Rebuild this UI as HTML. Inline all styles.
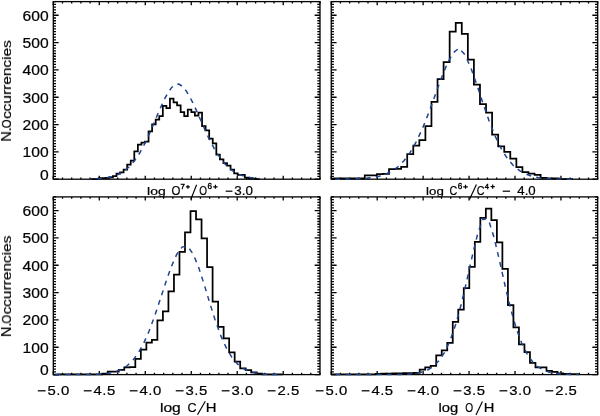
<!DOCTYPE html>
<html><head><meta charset="utf-8"><style>
html,body{margin:0;padding:0;background:#fff;}
svg{display:block;font-family:"Liberation Sans",sans-serif;-webkit-font-smoothing:antialiased;}
text{will-change:transform;stroke:#000;stroke-width:0.22px;}
</style></head><body>
<svg width="600" height="416" viewBox="0 0 600 416">
<rect width="600" height="416" fill="#fff"/>
<rect x="53.30" y="1.60" width="266.70" height="177.60" fill="none" stroke="#000" stroke-width="1.3"/>
<path d="M53.30 179.20v-3.55M53.30 1.60v3.55M62.50 179.20v-1.78M62.50 1.60v1.78M71.69 179.20v-1.78M71.69 1.60v1.78M80.89 179.20v-1.78M80.89 1.60v1.78M90.09 179.20v-1.78M90.09 1.60v1.78M99.28 179.20v-3.55M99.28 1.60v3.55M108.48 179.20v-1.78M108.48 1.60v1.78M117.68 179.20v-1.78M117.68 1.60v1.78M126.87 179.20v-1.78M126.87 1.60v1.78M136.07 179.20v-1.78M136.07 1.60v1.78M145.27 179.20v-3.55M145.27 1.60v3.55M154.46 179.20v-1.78M154.46 1.60v1.78M163.66 179.20v-1.78M163.66 1.60v1.78M172.86 179.20v-1.78M172.86 1.60v1.78M182.05 179.20v-1.78M182.05 1.60v1.78M191.25 179.20v-3.55M191.25 1.60v3.55M200.44 179.20v-1.78M200.44 1.60v1.78M209.64 179.20v-1.78M209.64 1.60v1.78M218.84 179.20v-1.78M218.84 1.60v1.78M228.03 179.20v-1.78M228.03 1.60v1.78M237.23 179.20v-3.55M237.23 1.60v3.55M246.43 179.20v-1.78M246.43 1.60v1.78M255.62 179.20v-1.78M255.62 1.60v1.78M264.82 179.20v-1.78M264.82 1.60v1.78M274.02 179.20v-1.78M274.02 1.60v1.78M283.21 179.20v-3.55M283.21 1.60v3.55M292.41 179.20v-1.78M292.41 1.60v1.78M301.61 179.20v-1.78M301.61 1.60v1.78M310.80 179.20v-1.78M310.80 1.60v1.78M320.00 179.20v-1.78M320.00 1.60v1.78M53.30 179.20h5.33M320.00 179.20h-5.33M53.30 176.47h2.67M320.00 176.47h-2.67M53.30 173.74h2.67M320.00 173.74h-2.67M53.30 171.00h2.67M320.00 171.00h-2.67M53.30 168.27h2.67M320.00 168.27h-2.67M53.30 165.54h2.67M320.00 165.54h-2.67M53.30 162.81h2.67M320.00 162.81h-2.67M53.30 160.07h2.67M320.00 160.07h-2.67M53.30 157.34h2.67M320.00 157.34h-2.67M53.30 154.61h2.67M320.00 154.61h-2.67M53.30 151.88h5.33M320.00 151.88h-5.33M53.30 149.14h2.67M320.00 149.14h-2.67M53.30 146.41h2.67M320.00 146.41h-2.67M53.30 143.68h2.67M320.00 143.68h-2.67M53.30 140.95h2.67M320.00 140.95h-2.67M53.30 138.22h2.67M320.00 138.22h-2.67M53.30 135.48h2.67M320.00 135.48h-2.67M53.30 132.75h2.67M320.00 132.75h-2.67M53.30 130.02h2.67M320.00 130.02h-2.67M53.30 127.29h2.67M320.00 127.29h-2.67M53.30 124.55h5.33M320.00 124.55h-5.33M53.30 121.82h2.67M320.00 121.82h-2.67M53.30 119.09h2.67M320.00 119.09h-2.67M53.30 116.36h2.67M320.00 116.36h-2.67M53.30 113.62h2.67M320.00 113.62h-2.67M53.30 110.89h2.67M320.00 110.89h-2.67M53.30 108.16h2.67M320.00 108.16h-2.67M53.30 105.43h2.67M320.00 105.43h-2.67M53.30 102.70h2.67M320.00 102.70h-2.67M53.30 99.96h2.67M320.00 99.96h-2.67M53.30 97.23h5.33M320.00 97.23h-5.33M53.30 94.50h2.67M320.00 94.50h-2.67M53.30 91.77h2.67M320.00 91.77h-2.67M53.30 89.03h2.67M320.00 89.03h-2.67M53.30 86.30h2.67M320.00 86.30h-2.67M53.30 83.57h2.67M320.00 83.57h-2.67M53.30 80.84h2.67M320.00 80.84h-2.67M53.30 78.10h2.67M320.00 78.10h-2.67M53.30 75.37h2.67M320.00 75.37h-2.67M53.30 72.64h2.67M320.00 72.64h-2.67M53.30 69.91h5.33M320.00 69.91h-5.33M53.30 67.18h2.67M320.00 67.18h-2.67M53.30 64.44h2.67M320.00 64.44h-2.67M53.30 61.71h2.67M320.00 61.71h-2.67M53.30 58.98h2.67M320.00 58.98h-2.67M53.30 56.25h2.67M320.00 56.25h-2.67M53.30 53.51h2.67M320.00 53.51h-2.67M53.30 50.78h2.67M320.00 50.78h-2.67M53.30 48.05h2.67M320.00 48.05h-2.67M53.30 45.32h2.67M320.00 45.32h-2.67M53.30 42.58h5.33M320.00 42.58h-5.33M53.30 39.85h2.67M320.00 39.85h-2.67M53.30 37.12h2.67M320.00 37.12h-2.67M53.30 34.39h2.67M320.00 34.39h-2.67M53.30 31.66h2.67M320.00 31.66h-2.67M53.30 28.92h2.67M320.00 28.92h-2.67M53.30 26.19h2.67M320.00 26.19h-2.67M53.30 23.46h2.67M320.00 23.46h-2.67M53.30 20.73h2.67M320.00 20.73h-2.67M53.30 17.99h2.67M320.00 17.99h-2.67M53.30 15.26h5.33M320.00 15.26h-5.33M53.30 12.53h2.67M320.00 12.53h-2.67M53.30 9.80h2.67M320.00 9.80h-2.67M53.30 7.06h2.67M320.00 7.06h-2.67M53.30 4.33h2.67M320.00 4.33h-2.67M53.30 1.60h2.67M320.00 1.60h-2.67" stroke="#000" stroke-width="1.3" fill="none"/>
<polyline points="90.00,179.01 91.50,179.01 91.50,179.01 95.07,179.01 95.07,179.01 98.64,179.01 98.64,178.00 102.20,178.00 102.20,178.00 105.77,178.00 105.77,177.81 109.33,177.81 109.33,177.29 112.90,177.29 112.90,176.00 116.46,176.00 116.46,173.60 120.03,173.60 120.03,172.40 123.60,172.40 123.60,169.50 127.16,169.50 127.16,164.50 130.73,164.50 130.73,160.70 134.29,160.70 134.29,151.49 137.86,151.49 137.86,144.61 141.43,144.61 141.43,142.51 144.99,142.51 144.99,141.60 148.56,141.60 148.56,131.30 152.12,131.30 152.12,124.31 155.69,124.31 155.69,119.61 159.25,119.61 159.25,116.19 162.82,116.19 162.82,105.76 166.39,105.76 166.39,108.24 169.95,108.24 169.95,98.71 173.52,98.71 173.52,102.39 177.08,102.39 177.08,105.29 180.65,105.29 180.65,112.01 184.22,112.01 184.22,116.19 187.78,116.19 187.78,109.69 191.35,109.69 191.35,112.01 194.91,112.01 194.91,115.70 198.48,115.70 198.48,112.50 202.04,112.50 202.04,126.00 205.61,126.00 205.61,130.29 209.18,130.29 209.18,138.71 212.74,138.71 212.74,143.30 216.31,143.30 216.31,154.50 219.87,154.50 219.87,159.39 223.44,159.39 223.44,163.00 227.01,163.00 227.01,165.51 230.57,165.51 230.57,169.69 234.14,169.69 234.14,173.30 237.70,173.30 237.70,174.99 241.27,174.99 241.27,174.99 244.83,174.99 244.83,177.51 248.40,177.51 248.40,178.30 251.97,178.30 251.97,178.60 255.53,178.60 255.53,179.01 259.10,179.01 259.10,179.01 260.00,179.01" fill="none" stroke="#000" stroke-width="1.75" stroke-linejoin="miter"/>
<polyline points="90.00,179.01 93.29,178.90 96.85,178.73 100.42,178.48 103.99,178.11 107.55,177.58 111.12,176.84 114.69,175.80 118.25,174.40 121.82,172.54 125.38,170.12 128.95,167.04 132.51,163.20 136.08,158.54 139.65,153.01 143.21,146.62 146.78,139.43 150.34,131.57 153.91,123.26 157.48,114.80 161.04,106.55 164.61,98.93 168.18,92.40 171.74,87.43 175.31,84.47 178.87,84.12 182.44,86.40 186.00,90.66 189.57,96.48 193.14,103.45 196.70,111.16 200.27,119.24 203.83,127.32 207.40,135.12 210.97,142.41 214.53,149.03 218.10,154.89 221.66,159.94 225.23,164.20 228.80,167.71 232.36,170.54 235.93,172.79 239.50,174.52 243.06,175.85 246.63,176.83 250.19,177.56 253.76,178.08 257.32,178.44 260.00,178.64" fill="none" stroke="#1f448f" stroke-width="1.5" stroke-dasharray="5 5.2" stroke-dashoffset="3.40"/>
<rect x="53.30" y="196.90" width="266.70" height="177.70" fill="none" stroke="#000" stroke-width="1.3"/>
<path d="M53.30 374.60v-3.55M53.30 196.90v3.55M62.50 374.60v-1.78M62.50 196.90v1.78M71.69 374.60v-1.78M71.69 196.90v1.78M80.89 374.60v-1.78M80.89 196.90v1.78M90.09 374.60v-1.78M90.09 196.90v1.78M99.28 374.60v-3.55M99.28 196.90v3.55M108.48 374.60v-1.78M108.48 196.90v1.78M117.68 374.60v-1.78M117.68 196.90v1.78M126.87 374.60v-1.78M126.87 196.90v1.78M136.07 374.60v-1.78M136.07 196.90v1.78M145.27 374.60v-3.55M145.27 196.90v3.55M154.46 374.60v-1.78M154.46 196.90v1.78M163.66 374.60v-1.78M163.66 196.90v1.78M172.86 374.60v-1.78M172.86 196.90v1.78M182.05 374.60v-1.78M182.05 196.90v1.78M191.25 374.60v-3.55M191.25 196.90v3.55M200.44 374.60v-1.78M200.44 196.90v1.78M209.64 374.60v-1.78M209.64 196.90v1.78M218.84 374.60v-1.78M218.84 196.90v1.78M228.03 374.60v-1.78M228.03 196.90v1.78M237.23 374.60v-3.55M237.23 196.90v3.55M246.43 374.60v-1.78M246.43 196.90v1.78M255.62 374.60v-1.78M255.62 196.90v1.78M264.82 374.60v-1.78M264.82 196.90v1.78M274.02 374.60v-1.78M274.02 196.90v1.78M283.21 374.60v-3.55M283.21 196.90v3.55M292.41 374.60v-1.78M292.41 196.90v1.78M301.61 374.60v-1.78M301.61 196.90v1.78M310.80 374.60v-1.78M310.80 196.90v1.78M320.00 374.60v-1.78M320.00 196.90v1.78M53.30 374.60h5.33M320.00 374.60h-5.33M53.30 371.87h2.67M320.00 371.87h-2.67M53.30 369.13h2.67M320.00 369.13h-2.67M53.30 366.40h2.67M320.00 366.40h-2.67M53.30 363.66h2.67M320.00 363.66h-2.67M53.30 360.93h2.67M320.00 360.93h-2.67M53.30 358.20h2.67M320.00 358.20h-2.67M53.30 355.46h2.67M320.00 355.46h-2.67M53.30 352.73h2.67M320.00 352.73h-2.67M53.30 350.00h2.67M320.00 350.00h-2.67M53.30 347.26h5.33M320.00 347.26h-5.33M53.30 344.53h2.67M320.00 344.53h-2.67M53.30 341.79h2.67M320.00 341.79h-2.67M53.30 339.06h2.67M320.00 339.06h-2.67M53.30 336.33h2.67M320.00 336.33h-2.67M53.30 333.59h2.67M320.00 333.59h-2.67M53.30 330.86h2.67M320.00 330.86h-2.67M53.30 328.12h2.67M320.00 328.12h-2.67M53.30 325.39h2.67M320.00 325.39h-2.67M53.30 322.66h2.67M320.00 322.66h-2.67M53.30 319.92h5.33M320.00 319.92h-5.33M53.30 317.19h2.67M320.00 317.19h-2.67M53.30 314.46h2.67M320.00 314.46h-2.67M53.30 311.72h2.67M320.00 311.72h-2.67M53.30 308.99h2.67M320.00 308.99h-2.67M53.30 306.25h2.67M320.00 306.25h-2.67M53.30 303.52h2.67M320.00 303.52h-2.67M53.30 300.79h2.67M320.00 300.79h-2.67M53.30 298.05h2.67M320.00 298.05h-2.67M53.30 295.32h2.67M320.00 295.32h-2.67M53.30 292.58h5.33M320.00 292.58h-5.33M53.30 289.85h2.67M320.00 289.85h-2.67M53.30 287.12h2.67M320.00 287.12h-2.67M53.30 284.38h2.67M320.00 284.38h-2.67M53.30 281.65h2.67M320.00 281.65h-2.67M53.30 278.92h2.67M320.00 278.92h-2.67M53.30 276.18h2.67M320.00 276.18h-2.67M53.30 273.45h2.67M320.00 273.45h-2.67M53.30 270.71h2.67M320.00 270.71h-2.67M53.30 267.98h2.67M320.00 267.98h-2.67M53.30 265.25h5.33M320.00 265.25h-5.33M53.30 262.51h2.67M320.00 262.51h-2.67M53.30 259.78h2.67M320.00 259.78h-2.67M53.30 257.04h2.67M320.00 257.04h-2.67M53.30 254.31h2.67M320.00 254.31h-2.67M53.30 251.58h2.67M320.00 251.58h-2.67M53.30 248.84h2.67M320.00 248.84h-2.67M53.30 246.11h2.67M320.00 246.11h-2.67M53.30 243.38h2.67M320.00 243.38h-2.67M53.30 240.64h2.67M320.00 240.64h-2.67M53.30 237.91h5.33M320.00 237.91h-5.33M53.30 235.17h2.67M320.00 235.17h-2.67M53.30 232.44h2.67M320.00 232.44h-2.67M53.30 229.71h2.67M320.00 229.71h-2.67M53.30 226.97h2.67M320.00 226.97h-2.67M53.30 224.24h2.67M320.00 224.24h-2.67M53.30 221.50h2.67M320.00 221.50h-2.67M53.30 218.77h2.67M320.00 218.77h-2.67M53.30 216.04h2.67M320.00 216.04h-2.67M53.30 213.30h2.67M320.00 213.30h-2.67M53.30 210.57h5.33M320.00 210.57h-5.33M53.30 207.84h2.67M320.00 207.84h-2.67M53.30 205.10h2.67M320.00 205.10h-2.67M53.30 202.37h2.67M320.00 202.37h-2.67M53.30 199.63h2.67M320.00 199.63h-2.67M53.30 196.90h2.67M320.00 196.90h-2.67" stroke="#000" stroke-width="1.3" fill="none"/>
<polyline points="53.30,374.60 58.04,374.60 58.04,374.41 63.56,374.41 63.56,374.41 69.08,374.41 69.08,374.41 74.60,374.41 74.60,374.41 80.12,374.41 80.12,374.41 85.64,374.41 85.64,374.41 91.16,374.41 91.16,374.41 96.68,374.41 96.68,374.41 102.20,374.41 102.20,373.70 107.72,373.70 107.72,371.70 113.24,371.70 113.24,371.70 118.76,371.70 118.76,369.79 124.28,369.79 124.28,367.30 129.80,367.30 129.80,367.00 135.32,367.00 135.32,358.88 140.84,358.88 140.84,349.59 146.36,349.59 146.36,342.59 151.88,342.59 151.88,339.99 157.39,339.99 157.39,320.47 162.91,320.47 162.91,311.37 168.43,311.37 168.43,291.46 173.95,291.46 173.95,274.54 179.47,274.54 179.47,251.82 184.99,251.82 184.99,232.33 190.51,232.33 190.51,211.01 196.03,211.01 196.03,219.32 201.55,219.32 201.55,238.32 207.07,238.32 207.07,267.24 212.59,267.24 212.59,301.55 218.11,301.55 218.11,326.79 223.63,326.79 223.63,338.49 229.15,338.49 229.15,352.29 234.67,352.29 234.67,361.50 240.19,361.50 240.19,368.39 245.71,368.39 245.71,370.09 251.23,370.09 251.23,372.39 256.75,372.39 256.75,373.59 262.27,373.59 262.27,374.30 267.79,374.30 267.79,374.41 273.31,374.41 273.31,374.41 278.83,374.41 278.83,374.41 282.50,374.41" fill="none" stroke="#000" stroke-width="1.75" stroke-linejoin="miter"/>
<polyline points="53.30,374.60 55.28,374.60 60.80,374.60 66.32,374.60 71.84,374.59 77.36,374.58 82.88,374.55 88.40,374.49 93.92,374.37 99.44,374.13 104.96,373.69 110.48,372.89 116.00,371.52 121.52,369.29 127.04,365.80 132.56,360.61 138.08,353.27 143.60,343.43 149.12,330.97 154.64,316.11 160.16,299.59 165.68,282.63 171.20,266.90 176.72,254.35 182.24,246.87 187.76,246.50 193.28,254.20 198.80,267.81 204.32,284.95 209.84,303.24 215.36,320.67 220.88,335.87 226.40,348.14 231.92,357.40 237.44,363.95 242.96,368.32 248.48,371.07 254.00,372.70 259.52,373.63 265.04,374.13 270.56,374.38 276.08,374.50 281.60,374.56 282.50,374.56" fill="none" stroke="#1f448f" stroke-width="1.5" stroke-dasharray="5 5.2" stroke-dashoffset="8.15"/>
<rect x="331.25" y="1.60" width="266.45" height="177.60" fill="none" stroke="#000" stroke-width="1.3"/>
<path d="M331.25 179.20v-3.55M331.25 1.60v3.55M340.44 179.20v-1.78M340.44 1.60v1.78M349.63 179.20v-1.78M349.63 1.60v1.78M358.81 179.20v-1.78M358.81 1.60v1.78M368.00 179.20v-1.78M368.00 1.60v1.78M377.19 179.20v-3.55M377.19 1.60v3.55M386.38 179.20v-1.78M386.38 1.60v1.78M395.57 179.20v-1.78M395.57 1.60v1.78M404.75 179.20v-1.78M404.75 1.60v1.78M413.94 179.20v-1.78M413.94 1.60v1.78M423.13 179.20v-3.55M423.13 1.60v3.55M432.32 179.20v-1.78M432.32 1.60v1.78M441.51 179.20v-1.78M441.51 1.60v1.78M450.69 179.20v-1.78M450.69 1.60v1.78M459.88 179.20v-1.78M459.88 1.60v1.78M469.07 179.20v-3.55M469.07 1.60v3.55M478.26 179.20v-1.78M478.26 1.60v1.78M487.44 179.20v-1.78M487.44 1.60v1.78M496.63 179.20v-1.78M496.63 1.60v1.78M505.82 179.20v-1.78M505.82 1.60v1.78M515.01 179.20v-3.55M515.01 1.60v3.55M524.20 179.20v-1.78M524.20 1.60v1.78M533.38 179.20v-1.78M533.38 1.60v1.78M542.57 179.20v-1.78M542.57 1.60v1.78M551.76 179.20v-1.78M551.76 1.60v1.78M560.95 179.20v-3.55M560.95 1.60v3.55M570.14 179.20v-1.78M570.14 1.60v1.78M579.32 179.20v-1.78M579.32 1.60v1.78M588.51 179.20v-1.78M588.51 1.60v1.78M597.70 179.20v-1.78M597.70 1.60v1.78M331.25 179.20h5.33M597.70 179.20h-5.33M331.25 176.47h2.66M597.70 176.47h-2.66M331.25 173.74h2.66M597.70 173.74h-2.66M331.25 171.00h2.66M597.70 171.00h-2.66M331.25 168.27h2.66M597.70 168.27h-2.66M331.25 165.54h2.66M597.70 165.54h-2.66M331.25 162.81h2.66M597.70 162.81h-2.66M331.25 160.07h2.66M597.70 160.07h-2.66M331.25 157.34h2.66M597.70 157.34h-2.66M331.25 154.61h2.66M597.70 154.61h-2.66M331.25 151.88h5.33M597.70 151.88h-5.33M331.25 149.14h2.66M597.70 149.14h-2.66M331.25 146.41h2.66M597.70 146.41h-2.66M331.25 143.68h2.66M597.70 143.68h-2.66M331.25 140.95h2.66M597.70 140.95h-2.66M331.25 138.22h2.66M597.70 138.22h-2.66M331.25 135.48h2.66M597.70 135.48h-2.66M331.25 132.75h2.66M597.70 132.75h-2.66M331.25 130.02h2.66M597.70 130.02h-2.66M331.25 127.29h2.66M597.70 127.29h-2.66M331.25 124.55h5.33M597.70 124.55h-5.33M331.25 121.82h2.66M597.70 121.82h-2.66M331.25 119.09h2.66M597.70 119.09h-2.66M331.25 116.36h2.66M597.70 116.36h-2.66M331.25 113.62h2.66M597.70 113.62h-2.66M331.25 110.89h2.66M597.70 110.89h-2.66M331.25 108.16h2.66M597.70 108.16h-2.66M331.25 105.43h2.66M597.70 105.43h-2.66M331.25 102.70h2.66M597.70 102.70h-2.66M331.25 99.96h2.66M597.70 99.96h-2.66M331.25 97.23h5.33M597.70 97.23h-5.33M331.25 94.50h2.66M597.70 94.50h-2.66M331.25 91.77h2.66M597.70 91.77h-2.66M331.25 89.03h2.66M597.70 89.03h-2.66M331.25 86.30h2.66M597.70 86.30h-2.66M331.25 83.57h2.66M597.70 83.57h-2.66M331.25 80.84h2.66M597.70 80.84h-2.66M331.25 78.10h2.66M597.70 78.10h-2.66M331.25 75.37h2.66M597.70 75.37h-2.66M331.25 72.64h2.66M597.70 72.64h-2.66M331.25 69.91h5.33M597.70 69.91h-5.33M331.25 67.18h2.66M597.70 67.18h-2.66M331.25 64.44h2.66M597.70 64.44h-2.66M331.25 61.71h2.66M597.70 61.71h-2.66M331.25 58.98h2.66M597.70 58.98h-2.66M331.25 56.25h2.66M597.70 56.25h-2.66M331.25 53.51h2.66M597.70 53.51h-2.66M331.25 50.78h2.66M597.70 50.78h-2.66M331.25 48.05h2.66M597.70 48.05h-2.66M331.25 45.32h2.66M597.70 45.32h-2.66M331.25 42.58h5.33M597.70 42.58h-5.33M331.25 39.85h2.66M597.70 39.85h-2.66M331.25 37.12h2.66M597.70 37.12h-2.66M331.25 34.39h2.66M597.70 34.39h-2.66M331.25 31.66h2.66M597.70 31.66h-2.66M331.25 28.92h2.66M597.70 28.92h-2.66M331.25 26.19h2.66M597.70 26.19h-2.66M331.25 23.46h2.66M597.70 23.46h-2.66M331.25 20.73h2.66M597.70 20.73h-2.66M331.25 17.99h2.66M597.70 17.99h-2.66M331.25 15.26h5.33M597.70 15.26h-5.33M331.25 12.53h2.66M597.70 12.53h-2.66M331.25 9.80h2.66M597.70 9.80h-2.66M331.25 7.06h2.66M597.70 7.06h-2.66M331.25 4.33h2.66M597.70 4.33h-2.66M331.25 1.60h2.66M597.70 1.60h-2.66" stroke="#000" stroke-width="1.3" fill="none"/>
<polyline points="331.25,178.60 334.44,178.60 334.44,178.30 340.50,178.30 340.50,178.30 346.56,178.30 346.56,178.30 352.63,178.30 352.63,178.30 358.69,178.30 358.69,178.30 364.76,178.30 364.76,175.29 370.82,175.29 370.82,175.29 376.88,175.29 376.88,174.09 382.95,174.09 382.95,173.79 389.01,173.79 389.01,169.20 395.08,169.20 395.08,168.90 401.14,168.90 401.14,166.80 407.21,166.80 407.21,154.20 413.27,154.20 413.27,145.70 419.33,145.70 419.33,140.21 425.40,140.21 425.40,126.00 431.46,126.00 431.46,101.90 437.53,101.90 437.53,79.20 443.59,79.20 443.59,62.20 449.65,62.20 449.65,31.60 455.72,31.60 455.72,22.99 461.78,22.99 461.78,33.79 467.85,33.79 467.85,59.69 473.91,59.69 473.91,84.61 479.97,84.61 479.97,104.20 486.04,104.20 486.04,112.50 492.10,112.50 492.10,134.61 498.17,134.61 498.17,146.49 504.23,146.49 504.23,151.90 510.29,151.90 510.29,158.71 516.36,158.71 516.36,167.10 522.42,167.10 522.42,172.10 528.49,172.10 528.49,173.71 534.55,173.71 534.55,174.99 540.61,174.99 540.61,177.89 546.68,177.89 546.68,178.30 552.74,178.30 552.74,178.49 558.81,178.49 558.81,179.01 564.87,179.01 564.87,179.01 570.93,179.01 570.93,179.01 573.00,179.01" fill="none" stroke="#000" stroke-width="1.75" stroke-linejoin="miter"/>
<polyline points="331.25,179.18 331.40,179.18 337.48,179.15 343.55,179.11 349.62,179.02 355.69,178.86 361.75,178.58 367.83,178.10 373.89,177.30 379.97,176.01 386.04,174.00 392.11,170.98 398.18,166.58 404.25,160.44 410.31,152.18 416.38,141.55 422.46,128.51 428.53,113.34 434.60,96.75 440.67,79.96 446.74,64.70 452.81,53.14 458.88,48.22 464.94,54.70 471.01,68.27 477.09,85.51 483.16,103.81 489.23,121.21 495.30,136.45 501.37,148.95 507.44,158.62 513.50,165.72 519.58,170.70 525.64,174.02 531.72,176.16 537.79,177.47 543.86,178.25 549.92,178.70 556.00,178.94 562.07,179.07 568.13,179.14 573.00,179.17" fill="none" stroke="#1f448f" stroke-width="1.5" stroke-dasharray="5 5.2" stroke-dashoffset="6.32"/>
<rect x="331.25" y="196.90" width="266.45" height="177.70" fill="none" stroke="#000" stroke-width="1.3"/>
<path d="M331.25 374.60v-3.55M331.25 196.90v3.55M340.44 374.60v-1.78M340.44 196.90v1.78M349.63 374.60v-1.78M349.63 196.90v1.78M358.81 374.60v-1.78M358.81 196.90v1.78M368.00 374.60v-1.78M368.00 196.90v1.78M377.19 374.60v-3.55M377.19 196.90v3.55M386.38 374.60v-1.78M386.38 196.90v1.78M395.57 374.60v-1.78M395.57 196.90v1.78M404.75 374.60v-1.78M404.75 196.90v1.78M413.94 374.60v-1.78M413.94 196.90v1.78M423.13 374.60v-3.55M423.13 196.90v3.55M432.32 374.60v-1.78M432.32 196.90v1.78M441.51 374.60v-1.78M441.51 196.90v1.78M450.69 374.60v-1.78M450.69 196.90v1.78M459.88 374.60v-1.78M459.88 196.90v1.78M469.07 374.60v-3.55M469.07 196.90v3.55M478.26 374.60v-1.78M478.26 196.90v1.78M487.44 374.60v-1.78M487.44 196.90v1.78M496.63 374.60v-1.78M496.63 196.90v1.78M505.82 374.60v-1.78M505.82 196.90v1.78M515.01 374.60v-3.55M515.01 196.90v3.55M524.20 374.60v-1.78M524.20 196.90v1.78M533.38 374.60v-1.78M533.38 196.90v1.78M542.57 374.60v-1.78M542.57 196.90v1.78M551.76 374.60v-1.78M551.76 196.90v1.78M560.95 374.60v-3.55M560.95 196.90v3.55M570.14 374.60v-1.78M570.14 196.90v1.78M579.32 374.60v-1.78M579.32 196.90v1.78M588.51 374.60v-1.78M588.51 196.90v1.78M597.70 374.60v-1.78M597.70 196.90v1.78M331.25 374.60h5.33M597.70 374.60h-5.33M331.25 371.87h2.66M597.70 371.87h-2.66M331.25 369.13h2.66M597.70 369.13h-2.66M331.25 366.40h2.66M597.70 366.40h-2.66M331.25 363.66h2.66M597.70 363.66h-2.66M331.25 360.93h2.66M597.70 360.93h-2.66M331.25 358.20h2.66M597.70 358.20h-2.66M331.25 355.46h2.66M597.70 355.46h-2.66M331.25 352.73h2.66M597.70 352.73h-2.66M331.25 350.00h2.66M597.70 350.00h-2.66M331.25 347.26h5.33M597.70 347.26h-5.33M331.25 344.53h2.66M597.70 344.53h-2.66M331.25 341.79h2.66M597.70 341.79h-2.66M331.25 339.06h2.66M597.70 339.06h-2.66M331.25 336.33h2.66M597.70 336.33h-2.66M331.25 333.59h2.66M597.70 333.59h-2.66M331.25 330.86h2.66M597.70 330.86h-2.66M331.25 328.12h2.66M597.70 328.12h-2.66M331.25 325.39h2.66M597.70 325.39h-2.66M331.25 322.66h2.66M597.70 322.66h-2.66M331.25 319.92h5.33M597.70 319.92h-5.33M331.25 317.19h2.66M597.70 317.19h-2.66M331.25 314.46h2.66M597.70 314.46h-2.66M331.25 311.72h2.66M597.70 311.72h-2.66M331.25 308.99h2.66M597.70 308.99h-2.66M331.25 306.25h2.66M597.70 306.25h-2.66M331.25 303.52h2.66M597.70 303.52h-2.66M331.25 300.79h2.66M597.70 300.79h-2.66M331.25 298.05h2.66M597.70 298.05h-2.66M331.25 295.32h2.66M597.70 295.32h-2.66M331.25 292.58h5.33M597.70 292.58h-5.33M331.25 289.85h2.66M597.70 289.85h-2.66M331.25 287.12h2.66M597.70 287.12h-2.66M331.25 284.38h2.66M597.70 284.38h-2.66M331.25 281.65h2.66M597.70 281.65h-2.66M331.25 278.92h2.66M597.70 278.92h-2.66M331.25 276.18h2.66M597.70 276.18h-2.66M331.25 273.45h2.66M597.70 273.45h-2.66M331.25 270.71h2.66M597.70 270.71h-2.66M331.25 267.98h2.66M597.70 267.98h-2.66M331.25 265.25h5.33M597.70 265.25h-5.33M331.25 262.51h2.66M597.70 262.51h-2.66M331.25 259.78h2.66M597.70 259.78h-2.66M331.25 257.04h2.66M597.70 257.04h-2.66M331.25 254.31h2.66M597.70 254.31h-2.66M331.25 251.58h2.66M597.70 251.58h-2.66M331.25 248.84h2.66M597.70 248.84h-2.66M331.25 246.11h2.66M597.70 246.11h-2.66M331.25 243.38h2.66M597.70 243.38h-2.66M331.25 240.64h2.66M597.70 240.64h-2.66M331.25 237.91h5.33M597.70 237.91h-5.33M331.25 235.17h2.66M597.70 235.17h-2.66M331.25 232.44h2.66M597.70 232.44h-2.66M331.25 229.71h2.66M597.70 229.71h-2.66M331.25 226.97h2.66M597.70 226.97h-2.66M331.25 224.24h2.66M597.70 224.24h-2.66M331.25 221.50h2.66M597.70 221.50h-2.66M331.25 218.77h2.66M597.70 218.77h-2.66M331.25 216.04h2.66M597.70 216.04h-2.66M331.25 213.30h2.66M597.70 213.30h-2.66M331.25 210.57h5.33M597.70 210.57h-5.33M331.25 207.84h2.66M597.70 207.84h-2.66M331.25 205.10h2.66M597.70 205.10h-2.66M331.25 202.37h2.66M597.70 202.37h-2.66M331.25 199.63h2.66M597.70 199.63h-2.66M331.25 196.90h2.66M597.70 196.90h-2.66" stroke="#000" stroke-width="1.3" fill="none"/>
<polyline points="331.44,374.41 336.95,374.41 336.95,374.41 342.47,374.41 342.47,374.41 347.98,374.41 347.98,374.41 353.50,374.41 353.50,374.41 359.01,374.41 359.01,374.41 364.53,374.41 364.53,374.41 370.04,374.41 370.04,374.41 375.56,374.41 375.56,373.89 381.07,373.89 381.07,373.70 386.59,373.70 386.59,373.51 392.10,373.51 392.10,373.40 397.61,373.40 397.61,373.29 403.13,373.29 403.13,373.21 408.64,373.21 408.64,373.10 414.16,373.10 414.16,372.99 419.67,372.99 419.67,369.60 425.19,369.60 425.19,367.49 430.70,367.49 430.70,365.80 436.22,365.80 436.22,355.30 441.73,355.30 441.73,350.38 447.25,350.38 447.25,342.97 452.76,342.97 452.76,321.86 458.27,321.86 458.27,309.67 463.79,309.67 463.79,288.05 469.30,288.05 469.30,266.83 474.82,266.83 474.82,241.82 480.33,241.82 480.33,217.92 485.85,217.92 485.85,208.52 491.36,208.52 491.36,220.11 496.88,220.11 496.88,242.34 502.39,242.34 502.39,268.75 507.91,268.75 507.91,305.05 513.42,305.05 513.42,327.47 518.93,327.47 518.93,344.28 524.45,344.28 524.45,352.18 529.96,352.18 529.96,362.79 535.48,362.79 535.48,367.38 540.99,367.38 540.99,367.38 546.51,367.38 546.51,370.80 552.02,370.80 552.02,371.89 557.54,371.89 557.54,373.40 563.05,373.40 563.05,373.81 568.57,373.81 568.57,374.00 574.08,374.00 574.08,374.19 578.70,374.19" fill="none" stroke="#000" stroke-width="1.75" stroke-linejoin="miter"/>
<polyline points="331.25,374.60 334.20,374.60 339.72,374.60 345.24,374.60 350.76,374.60 356.28,374.60 361.80,374.60 367.32,374.60 372.84,374.60 378.36,374.59 383.88,374.58 389.40,374.56 394.92,374.51 400.44,374.41 405.96,374.22 411.48,373.83 417.00,373.13 422.52,371.87 428.04,369.72 433.56,366.18 439.08,360.62 444.60,352.29 450.12,340.45 455.64,324.54 461.16,304.49 466.68,281.09 472.20,256.32 477.72,233.62 483.24,218.18 488.76,220.63 494.28,238.33 499.80,261.94 505.32,286.72 510.84,309.53 516.36,328.69 521.88,343.65 527.40,354.61 532.92,362.21 538.44,367.22 543.96,370.37 549.48,372.26 555.00,373.35 560.52,373.96 566.04,374.28 571.56,374.45 577.08,374.53 578.70,374.54" fill="none" stroke="#1f448f" stroke-width="1.5" stroke-dasharray="5 5.2" stroke-dashoffset="5.65"/>
<text transform="translate(40.00,179.95) scale(1.0650,1)" font-size="14.70" >0</text>
<text transform="translate(22.58,157.33) scale(1.0650,1)" font-size="14.70" >100</text>
<text transform="translate(22.58,130.01) scale(1.0650,1)" font-size="14.70" >200</text>
<text transform="translate(22.58,102.68) scale(1.0650,1)" font-size="14.70" >300</text>
<text transform="translate(22.58,75.36) scale(1.0650,1)" font-size="14.70" >400</text>
<text transform="translate(22.58,48.04) scale(1.0650,1)" font-size="14.70" >500</text>
<text transform="translate(22.58,20.71) scale(1.0650,1)" font-size="14.70" >600</text>
<text transform="translate(40.00,375.35) scale(1.0650,1)" font-size="14.70" >0</text>
<text transform="translate(22.58,352.71) scale(1.0650,1)" font-size="14.70" >100</text>
<text transform="translate(22.58,325.38) scale(1.0650,1)" font-size="14.70" >200</text>
<text transform="translate(22.58,298.04) scale(1.0650,1)" font-size="14.70" >300</text>
<text transform="translate(22.58,270.70) scale(1.0650,1)" font-size="14.70" >400</text>
<text transform="translate(22.58,243.36) scale(1.0650,1)" font-size="14.70" >500</text>
<text transform="translate(22.58,216.02) scale(1.0650,1)" font-size="14.70" >600</text>
<line x1="37.80" y1="390.80" x2="45.60" y2="390.80" stroke="#000" stroke-width="1.25"/>
<text transform="translate(47.57,394.60) scale(1.120,1)" font-size="13.30">5</text>
<text transform="translate(56.54,394.60) scale(1.000,1)" font-size="13.30">.</text>
<text transform="translate(60.95,394.60) scale(1.120,1)" font-size="13.30">0</text>
<line x1="83.78" y1="390.80" x2="91.58" y2="390.80" stroke="#000" stroke-width="1.25"/>
<text transform="translate(93.59,394.60) scale(1.120,1)" font-size="13.30">4</text>
<text transform="translate(102.52,394.60) scale(1.000,1)" font-size="13.30">.</text>
<text transform="translate(106.95,394.60) scale(1.120,1)" font-size="13.30">5</text>
<line x1="129.77" y1="390.80" x2="137.57" y2="390.80" stroke="#000" stroke-width="1.25"/>
<text transform="translate(139.57,394.60) scale(1.120,1)" font-size="13.30">4</text>
<text transform="translate(148.50,394.60) scale(1.000,1)" font-size="13.30">.</text>
<text transform="translate(152.91,394.60) scale(1.120,1)" font-size="13.30">0</text>
<line x1="175.75" y1="390.80" x2="183.55" y2="390.80" stroke="#000" stroke-width="1.25"/>
<text transform="translate(185.55,394.60) scale(1.120,1)" font-size="13.30">3</text>
<text transform="translate(194.49,394.60) scale(1.000,1)" font-size="13.30">.</text>
<text transform="translate(198.91,394.60) scale(1.120,1)" font-size="13.30">5</text>
<line x1="221.73" y1="390.80" x2="229.53" y2="390.80" stroke="#000" stroke-width="1.25"/>
<text transform="translate(231.53,394.60) scale(1.120,1)" font-size="13.30">3</text>
<text transform="translate(240.47,394.60) scale(1.000,1)" font-size="13.30">.</text>
<text transform="translate(244.88,394.60) scale(1.120,1)" font-size="13.30">0</text>
<line x1="267.71" y1="390.80" x2="275.51" y2="390.80" stroke="#000" stroke-width="1.25"/>
<text transform="translate(277.48,394.60) scale(1.120,1)" font-size="13.30">2</text>
<text transform="translate(286.45,394.60) scale(1.000,1)" font-size="13.30">.</text>
<text transform="translate(290.88,394.60) scale(1.120,1)" font-size="13.30">5</text>
<line x1="315.75" y1="390.80" x2="323.55" y2="390.80" stroke="#000" stroke-width="1.25"/>
<text transform="translate(325.52,394.60) scale(1.120,1)" font-size="13.30">5</text>
<text transform="translate(334.49,394.60) scale(1.000,1)" font-size="13.30">.</text>
<text transform="translate(338.90,394.60) scale(1.120,1)" font-size="13.30">0</text>
<line x1="361.69" y1="390.80" x2="369.49" y2="390.80" stroke="#000" stroke-width="1.25"/>
<text transform="translate(371.49,394.60) scale(1.120,1)" font-size="13.30">4</text>
<text transform="translate(380.43,394.60) scale(1.000,1)" font-size="13.30">.</text>
<text transform="translate(384.86,394.60) scale(1.120,1)" font-size="13.30">5</text>
<line x1="407.63" y1="390.80" x2="415.43" y2="390.80" stroke="#000" stroke-width="1.25"/>
<text transform="translate(417.43,394.60) scale(1.120,1)" font-size="13.30">4</text>
<text transform="translate(426.37,394.60) scale(1.000,1)" font-size="13.30">.</text>
<text transform="translate(430.78,394.60) scale(1.120,1)" font-size="13.30">0</text>
<line x1="453.57" y1="390.80" x2="461.37" y2="390.80" stroke="#000" stroke-width="1.25"/>
<text transform="translate(463.37,394.60) scale(1.120,1)" font-size="13.30">3</text>
<text transform="translate(472.31,394.60) scale(1.000,1)" font-size="13.30">.</text>
<text transform="translate(476.74,394.60) scale(1.120,1)" font-size="13.30">5</text>
<line x1="499.51" y1="390.80" x2="507.31" y2="390.80" stroke="#000" stroke-width="1.25"/>
<text transform="translate(509.31,394.60) scale(1.120,1)" font-size="13.30">3</text>
<text transform="translate(518.25,394.60) scale(1.000,1)" font-size="13.30">.</text>
<text transform="translate(522.66,394.60) scale(1.120,1)" font-size="13.30">0</text>
<line x1="545.45" y1="390.80" x2="553.25" y2="390.80" stroke="#000" stroke-width="1.25"/>
<text transform="translate(555.21,394.60) scale(1.120,1)" font-size="13.30">2</text>
<text transform="translate(564.19,394.60) scale(1.000,1)" font-size="13.30">.</text>
<text transform="translate(568.61,394.60) scale(1.120,1)" font-size="13.30">5</text>
<text transform="translate(159.95,411.80) scale(1.2423,1)" font-size="12.55" >log</text>
<text transform="translate(187.38,411.80) scale(0.9170,1)" font-size="13.62" >C</text>
<line x1="197.50" y1="414.70" x2="205.30" y2="401.30" stroke="#000" stroke-width="1.15"/>
<text transform="translate(205.67,411.60) scale(1.1631,1)" font-size="12.80" >H</text>
<text transform="translate(438.40,411.70) scale(1.1793,1)" font-size="12.55" >log</text>
<text transform="translate(465.32,411.80) scale(0.7502,1)" font-size="13.48" >O</text>
<line x1="476.00" y1="414.90" x2="482.40" y2="401.60" stroke="#000" stroke-width="1.15"/>
<text transform="translate(483.79,411.60) scale(1.1623,1)" font-size="12.65" >H</text>
<text transform="translate(147.06,194.80) scale(1.2352,1)" font-size="11.31" >log</text>
<text transform="translate(171.46,194.70) scale(0.9058,1)" font-size="12.62" >O</text>
<text transform="translate(180.38,188.60) scale(1.0320,1)" font-size="7.71" style="stroke-width:0.4px">7</text>
<path d="M185.90 186.85H189.90M187.90 185.00V188.70" stroke="#000" stroke-width="1.15" fill="none"/>
<line x1="190.90" y1="199.30" x2="196.60" y2="184.70" stroke="#000" stroke-width="1.15"/>
<text transform="translate(199.33,194.70) scale(0.7897,1)" font-size="12.62" >O</text>
<text transform="translate(207.59,189.10) scale(0.9551,1)" font-size="8.60" style="stroke-width:0.4px">6</text>
<path d="M213.20 186.80H217.60M215.40 184.80V188.80" stroke="#000" stroke-width="1.15" fill="none"/>
<line x1="225.70" y1="191.20" x2="232.40" y2="191.20" stroke="#000" stroke-width="1.2"/>
<text transform="translate(234.30,194.70) scale(1.0730,1)" font-size="12.47" >3.0</text>
<text transform="translate(426.10,194.70) scale(1.2211,1)" font-size="10.90" >log</text>
<text transform="translate(449.46,194.70) scale(0.8521,1)" font-size="12.62" >C</text>
<text transform="translate(457.79,189.30) scale(0.9243,1)" font-size="8.89" style="stroke-width:0.4px">6</text>
<path d="M463.20 186.80H467.80M465.50 184.80V188.80" stroke="#000" stroke-width="1.15" fill="none"/>
<line x1="469.60" y1="199.30" x2="476.40" y2="184.60" stroke="#000" stroke-width="1.15"/>
<text transform="translate(476.66,194.70) scale(0.8521,1)" font-size="12.62" >C</text>
<text transform="translate(484.83,188.60) scale(1.0778,1)" font-size="6.98" style="stroke-width:0.4px">4</text>
<path d="M490.60 186.60H494.80M492.70 184.40V188.80" stroke="#000" stroke-width="1.15" fill="none"/>
<line x1="502.70" y1="191.20" x2="510.10" y2="191.20" stroke="#000" stroke-width="1.2"/>
<text transform="translate(517.30,194.70) scale(1.0609,1)" font-size="12.47" >4.0</text>
<text transform="translate(11.00,141.70) rotate(-90) scale(1.0278,1)" font-size="14.11">N.</text>
<text transform="translate(10.90,128.14) rotate(-90) scale(0.8283,1)" font-size="13.62">O</text>
<text transform="translate(11.00,119.06) rotate(-90) scale(1.1431,1)" font-size="13.52">ccurrencies</text>
<text transform="translate(11.00,337.10) rotate(-90) scale(1.0278,1)" font-size="14.11">N.</text>
<text transform="translate(10.90,323.54) rotate(-90) scale(0.8283,1)" font-size="13.62">O</text>
<text transform="translate(11.00,314.46) rotate(-90) scale(1.1431,1)" font-size="13.52">ccurrencies</text>
</svg>
</body></html>
